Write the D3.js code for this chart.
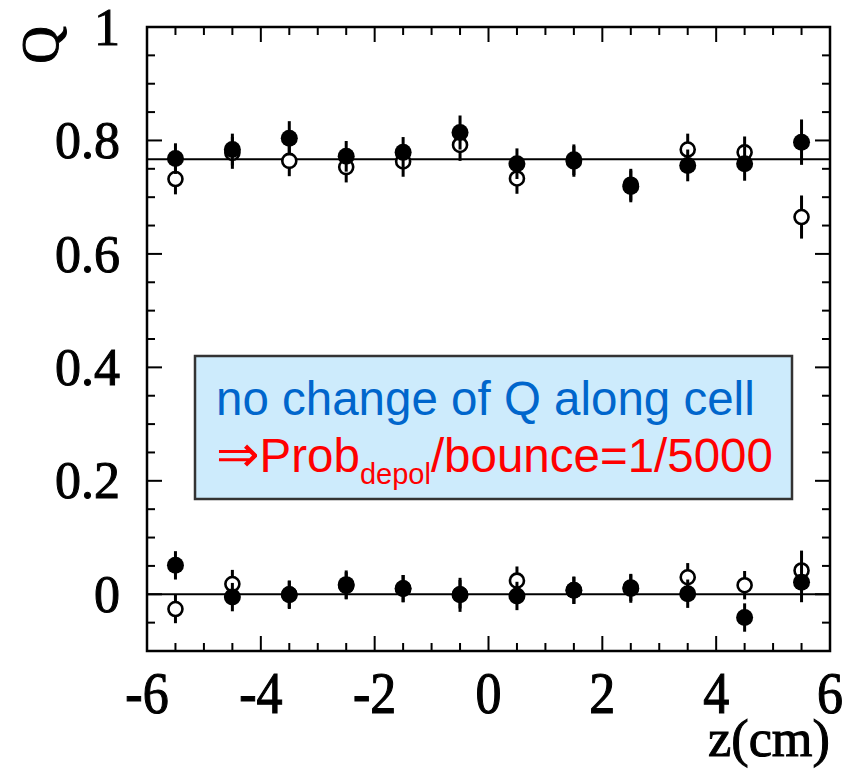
<!DOCTYPE html>
<html>
<head>
<meta charset="utf-8">
<script src="https://cdn.jsdelivr.net/npm/d3@7"></script>
<style>
  body { margin: 0; background: #fff; }
  .tick-label { font-family: "Liberation Serif", "Times New Roman", serif; font-size: 52px; fill: #000; stroke: #000; stroke-width: 1px; }
</style>
</head>
<body>
<script>
// z positions of the measurement bins (cm)
const zBins = [-5.5, -4.5, -3.5, -2.5, -1.5, -0.5, 0.5, 1.5, 2.5, 3.5, 4.5, 5.5];

// upper group (Q ~ 0.77)
const upperFilled = [0.768, 0.784, 0.804, 0.772, 0.779, 0.814, 0.759, 0.766, 0.719, 0.756, 0.759, 0.797];
const upperFilledErr = [0.027, 0.028, 0.03, 0.027, 0.027, 0.03, 0.027, 0.027, 0.028, 0.028, 0.03, 0.04];
const upperOpen = [0.732, 0.778, 0.764, 0.753, 0.763, 0.792, 0.733, 0.763, 0.722, 0.784, 0.779, 0.665];
const upperOpenErr = [0.027, 0.028, 0.027, 0.027, 0.027, 0.028, 0.027, 0.027, 0.028, 0.028, 0.028, 0.038];

// lower group (Q ~ 0)
const lowerFilled = [0.051, -0.005, -0.001, 0.017, 0.01, -0.001, -0.003, 0.007, 0.01, 0.001, -0.041, 0.021];
const lowerFilledErr = [0.025, 0.025, 0.025, 0.025, 0.024, 0.03, 0.025, 0.024, 0.025, 0.025, 0.025, 0.035];
const lowerOpen = [-0.026, 0.018, 0.0, 0.015, 0.01, 0.0, 0.024, 0.007, 0.012, 0.03, 0.016, 0.042];
const lowerOpenErr = [0.025, 0.025, 0.024, 0.024, 0.024, 0.025, 0.025, 0.024, 0.024, 0.025, 0.025, 0.035];

// fitted constant levels
const fitLevels = [0.767, 0.0];

const xTicks = [-6, -4, -2, 0, 2, 4, 6];
const yTicks = [0, 0.2, 0.4, 0.6, 0.8, 1];

const W = 857, H = 773;
const plot = { left: 147, right: 830, top: 27, bottom: 651 };

const svg = d3.select('body').append('svg')
    .attr('width', W)
    .attr('height', H);

const x = d3.scaleLinear().domain([-6, 6]).range([plot.left, plot.right]);
const y = d3.scaleLinear().domain([-0.1, 1]).range([plot.bottom, plot.top]);

// frame ticks, all pointing inward
const xMinor = d3.range(-6, 6.01, 0.5);
const yMinor = d3.range(-0.1, 1.001, 0.05).map(v => +v.toFixed(2));
const isMajorX = v => Math.abs(v % 2) < 1e-6;
const isMajorY = v => Math.abs(Math.round(v * 5) - v * 5) < 1e-6;

const ticks = svg.append('g').attr('stroke', '#000').attr('stroke-width', 2);
xMinor.forEach(v => {
    const len = isMajorX(v) ? 15 : 8;
    ticks.append('line').attr('x1', x(v)).attr('x2', x(v)).attr('y1', plot.bottom).attr('y2', plot.bottom - len);
    ticks.append('line').attr('x1', x(v)).attr('x2', x(v)).attr('y1', plot.top).attr('y2', plot.top + len);
});
yMinor.forEach(v => {
    const len = isMajorY(v) ? 15 : 8;
    ticks.append('line').attr('y1', y(v)).attr('y2', y(v)).attr('x1', plot.left).attr('x2', plot.left + len);
    ticks.append('line').attr('y1', y(v)).attr('y2', y(v)).attr('x1', plot.right).attr('x2', plot.right - len);
});

// frame
svg.append('rect')
    .attr('x', plot.left).attr('y', plot.top)
    .attr('width', plot.right - plot.left).attr('height', plot.bottom - plot.top)
    .attr('fill', 'none').attr('stroke', '#000').attr('stroke-width', 2.5);

// tick labels (x labels are a bit taller in the original scan)
svg.selectAll('.xlab').data(xTicks).join('text')
    .attr('class', 'tick-label')
    .attr('transform', d => `translate(${x(d)},713) scale(1,1.15)`)
    .attr('text-anchor', 'middle')
    .text(d => d);

svg.selectAll('.ylab').data(yTicks).join('text')
    .attr('class', 'tick-label')
    .attr('x', 120)
    .attr('y', d => y(d))
    .attr('dy', '0.34em')
    .attr('text-anchor', 'end')
    .text(d => d);

// axis titles
svg.append('text')
    .attr('class', 'tick-label')
    .attr('transform', 'translate(58,45) rotate(-90)')
    .attr('text-anchor', 'middle')
    .text('Q');

svg.append('text')
    .attr('class', 'tick-label')
    .attr('x', 708)
    .attr('y', 756)
    .attr('font-size', 46)
    .attr('textLength', 122)
    .attr('lengthAdjust', 'spacingAndGlyphs')
    .text('z(cm)');

// fitted lines
svg.selectAll('.fit').data(fitLevels).join('line')
    .attr('x1', plot.left).attr('x2', plot.right)
    .attr('y1', d => y(d)).attr('y2', d => y(d))
    .attr('stroke', '#000').attr('stroke-width', 2);

// data points with error bars
function drawSeries(vals, errs, filled) {
    const data = zBins.map((z, i) => ({ z, v: vals[i], e: errs[i] }));
    const g = svg.append('g');
    g.selectAll('line').data(data).join('line')
        .attr('x1', d => x(d.z)).attr('x2', d => x(d.z))
        .attr('y1', d => y(d.v - d.e)).attr('y2', d => y(d.v + d.e))
        .attr('stroke', '#000').attr('stroke-width', 3);
    g.selectAll('circle').data(data).join('circle')
        .attr('cx', d => x(d.z)).attr('cy', d => y(d.v))
        .attr('r', filled ? 8.5 : 7)
        .attr('fill', filled ? '#000' : '#fff')
        .attr('stroke', '#000')
        .attr('stroke-width', filled ? 0 : 2.6);
}
drawSeries(upperOpen, upperOpenErr, false);
drawSeries(lowerOpen, lowerOpenErr, false);
drawSeries(upperFilled, upperFilledErr, true);
drawSeries(lowerFilled, lowerFilledErr, true);

// annotation box
const box = svg.append('g');
box.append('rect')
    .attr('x', 195).attr('y', 356)
    .attr('width', 597).attr('height', 143)
    .attr('fill', '#cdebfc').attr('stroke', '#333').attr('stroke-width', 2.5);
box.append('text')
    .attr('x', 216).attr('y', 415)
    .attr('font-family', '"Liberation Sans", Arial, sans-serif')
    .attr('font-size', 47.5)
    .attr('fill', '#0066cc')
    .text('no change of Q along cell');
const l2 = box.append('text')
    .attr('x', 216).attr('y', 472)
    .attr('font-family', '"Liberation Sans", Arial, sans-serif')
    .attr('font-size', 47.5)
    .attr('fill', '#ff0000');
l2.append('tspan').attr('font-family', '"DejaVu Sans", sans-serif').attr('font-size', 52).text('⇒');
l2.append('tspan').text('Prob');
l2.append('tspan').attr('font-size', 29).attr('dy', 12).text('depol');
l2.append('tspan').attr('dy', -12).text('/bounce=1/5000');
</script>
</body>
</html>
